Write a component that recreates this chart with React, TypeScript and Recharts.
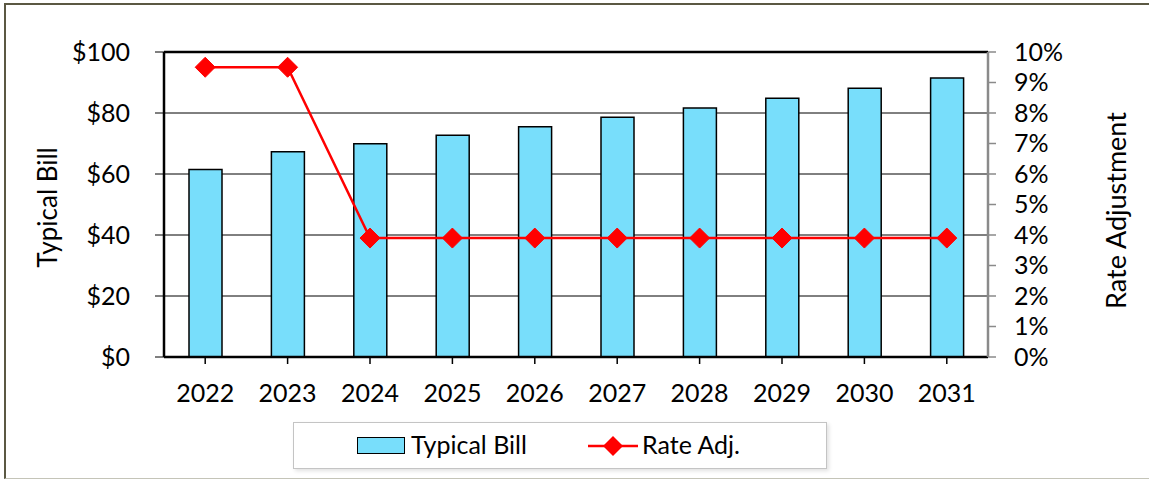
import React from "react";
import {
  ComposedChart,
  Bar,
  Line,
  XAxis,
  YAxis,
  CartesianGrid,
  ReferenceLine,
} from "recharts";

const years = ["2022", "2023", "2024", "2025", "2026", "2027", "2028", "2029", "2030", "2031"];
const typicalBill = [61.5, 67.3, 69.9, 72.7, 75.5, 78.6, 81.6, 84.8, 88.1, 91.5];
const rateAdj = [9.5, 9.5, 3.9, 3.9, 3.9, 3.9, 3.9, 3.9, 3.9, 3.9];
const billTicks = [0, 20, 40, 60, 80, 100];
const rateTicks = [0, 1, 2, 3, 4, 5, 6, 7, 8, 9, 10];

const data = years.map((y, i) => ({ year: y, bill: typicalBill[i], rate: rateAdj[i] }));

const FONT = "Lato, 'Open Sans', sans-serif";
const BAR_FILL = "#78DEFB";
const RED = "#FF0000";

const Diamond = (props: any) => {
  const { cx, cy } = props;
  if (cx == null || cy == null) return null;
  const r = 10;
  return (
    <polygon
      points={`${cx},${cy - r} ${cx + r},${cy} ${cx},${cy + r} ${cx - r},${cy}`}
      fill={RED}
      stroke={RED}
      strokeWidth={1}
    />
  );
};

const LeftTitle = (props: any) => {
  const vb = props.viewBox;
  const x = vb.x + 47;
  const y = vb.y + vb.height / 2 + 3;
  return (
    <text x={x} y={y} transform={`rotate(-90, ${x}, ${y})`} textAnchor="middle" dominantBaseline="central" fontSize={26} fill="#000" fontFamily={FONT}>
      Typical Bill
    </text>
  );
};

const RightTitle = (props: any) => {
  const vb = props.viewBox;
  const x = vb.x + 127;
  const y = vb.y + vb.height / 2 + 6;
  return (
    <text x={x} y={y} transform={`rotate(-90, ${x}, ${y})`} textAnchor="middle" dominantBaseline="central" fontSize={27} fill="#000" fontFamily={FONT}>
      Rate Adjustment
    </text>
  );
};

export default function App() {
  return (
    <div style={{ position: "absolute", left: 0, top: 0, width: 1149, height: 479, background: "#fff", overflow: "hidden", fontFamily: FONT }}>
      <div
        style={{
          position: "absolute",
          left: 4,
          top: 3,
          width: 1160,
          height: 473,
          borderTop: "2px solid #5b5843",
          borderLeft: "2px solid #5b5843",
          borderBottom: "1px solid #c4c4b8",
        }}
      />
      <div style={{ position: "absolute", left: 0, top: 0 }}>
        <ComposedChart
          width={1149}
          height={479}
          data={data}
          margin={{ top: 52, right: 0, bottom: 82, left: 0 }}
          barCategoryGap="0%"
        >
          <CartesianGrid vertical={false} stroke="#000" strokeWidth={1} yAxisId="left" />
          <XAxis
            dataKey="year"
            height={40}
            axisLine={{ stroke: "#000", strokeWidth: 2.5 }}
            tickLine={{ stroke: "#000", strokeWidth: 1.5 }}
            tickSize={7}
            tickMargin={20}
            tick={{ fontSize: 25, fill: "#000", fontFamily: FONT }}
            interval={0}
          />
          <YAxis
            yAxisId="left"
            orientation="left"
            width={164}
            domain={[0, 100]}
            ticks={billTicks}
            tickFormatter={(v: number) => `$${v}`}
            axisLine={{ stroke: "#000", strokeWidth: 2.5 }}
            tickLine={{ stroke: "#000", strokeWidth: 1 }}
            tickSize={9}
            tickMargin={25}
            tick={{ fontSize: 25, fill: "#000", fontFamily: FONT }}
            interval={0}
            label={<LeftTitle />}
          />
          <YAxis
            yAxisId="right"
            orientation="right"
            width={161}
            domain={[0, 10]}
            ticks={rateTicks}
            tickFormatter={(v: number) => `${v}%`}
            axisLine={{ stroke: "#8a8a8a", strokeWidth: 2.5 }}
            tickLine={{ stroke: "#8a8a8a", strokeWidth: 1.5 }}
            tickSize={8}
            tickMargin={18}
            tick={{ fontSize: 25, fill: "#000", fontFamily: FONT, textAnchor: "start" }}
            interval={0}
            label={<RightTitle />}
          />
          <ReferenceLine yAxisId="left" y={100} stroke="#000" strokeWidth={2.5} />
          <Bar
            yAxisId="left"
            dataKey="bill"
            fill={BAR_FILL}
            stroke="#000"
            strokeWidth={1.5}
            barSize={33}
            isAnimationActive={false}
          />
          <Line
            yAxisId="right"
            dataKey="rate"
            stroke={RED}
            strokeWidth={2.5}
            dot={<Diamond />}
            activeDot={false}
            isAnimationActive={false}
          />
        </ComposedChart>
      </div>
      <div
        style={{
          position: "absolute",
          left: 293,
          top: 422,
          width: 532,
          height: 45,
          border: "1.5px solid #c4c4c4",
          boxShadow: "2px 2px 4px rgba(0,0,0,0.12)",
          background: "#fff",
        }}
      >
        <div style={{ position: "absolute", left: 63, top: 14, width: 46, height: 15, background: BAR_FILL, border: "1.5px solid #000" }} />
        <div style={{ position: "absolute", left: 117, top: 3, fontSize: 25, lineHeight: "36px", color: "#000", whiteSpace: "nowrap" }}>Typical Bill</div>
        <svg style={{ position: "absolute", left: 293, top: 12 }} width={52} height={22}>
          <line x1={1} y1={11} x2={51} y2={11} stroke={RED} strokeWidth={2.5} />
          <polygon points="26,1 36,11 26,21 16,11" fill={RED} />
        </svg>
        <div style={{ position: "absolute", left: 348, top: 3, fontSize: 25, lineHeight: "36px", color: "#000", whiteSpace: "nowrap" }}>Rate Adj.</div>
      </div>
    </div>
  );
}
